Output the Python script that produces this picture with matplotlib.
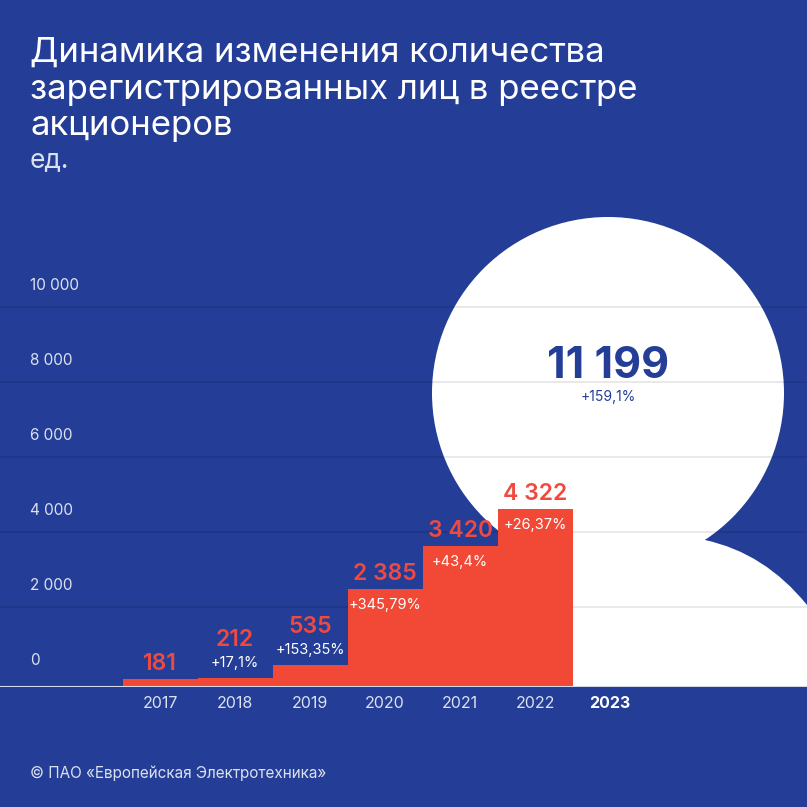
import matplotlib.pyplot as plt
from matplotlib.patches import Circle, PathPatch
from matplotlib.path import Path

plt.rcParams['font.family'] = ['Inter', 'DejaVu Sans']

# данные
years = ['2017', '2018', '2019', '2020', '2021', '2022', '2023']
values = [181, 212, 535, 2385, 3420, 4322, 11199]
growth = ['', '+17,1%', '+153,35%', '+345,79%', '+43,4%', '+26,37%', '+159,1%']
grid_ticks = [0, 2000, 4000, 6000, 8000, 10000]
title_lines = ['Динамика изменения количества',
               'зарегистрированных лиц в реестре',
               'акционеров']

BG = '#243D96'
RED = '#F24836'
LIGHT = '#DCE1F0'

W = 807


def fy(y):
    # пиксели сверху -> доля фигуры
    return (W - y) / W


fig = plt.figure(figsize=(8.07, 8.07), dpi=100)
fig.patch.set_facecolor(BG)

# фоновый слой с белой "выноской"
bg = fig.add_axes([0, 0, 1, 1])
bg.set_xlim(0, W)
bg.set_ylim(W, 0)
bg.axis('off')
bg.add_patch(Circle((608, 393), 176, facecolor='white', edgecolor='none'))
tail = Path([(580, 530), (705, 540), (765, 553), (807, 605), (807, 687), (540, 687), (540, 560), (580, 530)],
            [Path.MOVETO, Path.LINETO, Path.CURVE3, Path.CURVE3, Path.LINETO, Path.LINETO, Path.LINETO,
             Path.CLOSEPOLY])
bg.add_patch(PathPatch(tail, facecolor='white', edgecolor='none'))

# оси: сетка и столбцы
base = 686.7
top = 200
ax = fig.add_axes([0, fy(base), 1, (base - top) / W])
ax.set_facecolor('none')
ax.set_xlim(-160 / 75, (W - 160) / 75)
ax.set_ylim(-5 / 0.0375, (base - top - 5) / 0.0375)
for t in grid_ticks[1:]:
    ax.axhline(t, color='black', alpha=0.1, lw=1.2, zorder=1)
for t in grid_ticks:
    ax.annotate(f'{t:,}'.replace(',', ' '), xy=(30 / W, t), xycoords=('axes fraction', 'data'),
                xytext=(0, 21), textcoords='offset pixels', ha='left', va='center',
                color=LIGHT, fontsize=11)
ax.axis('off')

axb = ax.twinx()
axb.set_ylim(0, (base - top) / 0.0411)
axb.axis('off')
n = len(years) - 1
axb.bar(range(n), values[:n], width=1.0, color=RED, zorder=3)
axb.axhline(0, color='#D5DAEA', lw=1.5, zorder=4)

for i in range(n):
    v = values[i]
    if v > 1000:
        val_off, pct_off = 15, -16
    else:
        val_off, pct_off = (38, 15) if growth[i] else (15, 0)
    axb.annotate(f'{v:,}'.replace(',', ' '), xy=(i, v), xytext=(0, val_off), textcoords='offset pixels',
                 ha='center', va='center', color='#EF4A40', fontsize=16.5, fontweight='semibold', zorder=5)
    if growth[i]:
        axb.annotate(growth[i], xy=(i, v), xytext=(0, pct_off), textcoords='offset pixels',
                     ha='center', va='center', color='white', fontsize=10.5, zorder=5)

# подписи годов
for i, y in enumerate(years):
    bg.text(160 + 75 * i, 704, y, ha='center', va='center', color='white' if i == n else LIGHT,
            fontsize=11.5, fontweight='bold' if i == n else 'normal')

# 2023 в круге
bg.text(608, 367, f'{values[-1]:,}'.replace(',', ' '), ha='center', va='center', color=BG,
        fontsize=31, fontweight='bold')
bg.text(608, 397, growth[-1], ha='center', va='center', color=BG, fontsize=10)

# заголовок
for k, line in enumerate(title_lines):
    bg.text(30, 53 + 36.5 * k, line, ha='left', va='center', color='white', fontsize=25)
bg.text(30, 160, 'ед.', ha='left', va='center', color=LIGHT, fontsize=19)
bg.text(30, 773, '© ПАО «Европейская Электротехника»', ha='left', va='center', color=LIGHT, fontsize=11)

fig.savefig('out.png', dpi=100, facecolor=BG)
